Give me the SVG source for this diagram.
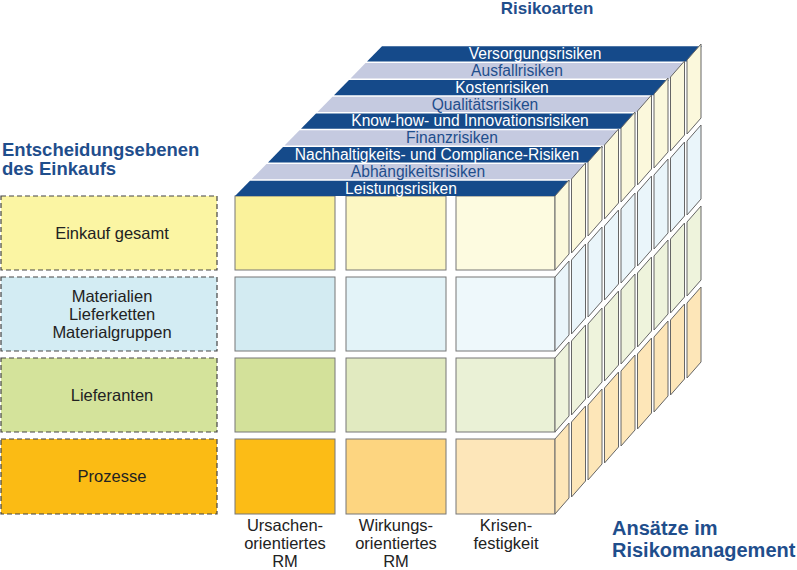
<svg xmlns="http://www.w3.org/2000/svg" width="797" height="570" viewBox="0 0 797 570">
<style>
text{font-family:"Liberation Sans",Arial,sans-serif}
.t{font-weight:bold;fill:#1f4e8c}
.l{font-size:16.5px;fill:#222;text-anchor:middle}
.c{font-size:16.5px;fill:#222;text-anchor:middle}
.box{stroke:#444;stroke-width:1.2;stroke-dasharray:5,3}
.cell{stroke:#777;stroke-width:1}
.side{stroke:#666;stroke-width:1}
.d{fill:#154a8a}.lt{fill:#c5cae0}
.bt{font-size:15.6px;text-anchor:middle}
.bw{fill:#fff}.bb{fill:#1f4e8c}
</style>
<rect width="797" height="570" fill="#fff"/>
<text class="t" x="547" y="14" text-anchor="middle" font-size="17">Risikoarten</text>
<text class="t" x="2" y="156" font-size="18.5">Entscheidungsebenen</text>
<text class="t" x="2" y="175" font-size="18.5">des Einkaufs</text>
<text class="t" x="612" y="535" font-size="20">Ansätze im</text>
<text class="t" x="612" y="557" font-size="20">Risikomanagement</text>
<g id="levels">
<g id="lv1"><rect class="box" x="1" y="196" width="216" height="74" fill="#fbf5a3"/><text class="l" x="112" y="239">Einkauf gesamt</text></g>
<g id="lv2"><rect class="box" x="1" y="277" width="216" height="74" fill="#d3ecf3"/><text class="l" x="112" y="302">Materialien</text><text class="l" x="112" y="320">Lieferketten</text><text class="l" x="112" y="338">Materialgruppen</text></g>
<g id="lv3"><rect class="box" x="1" y="358" width="216" height="74" fill="#d4e39b"/><text class="l" x="112" y="401">Lieferanten</text></g>
<g id="lv4"><rect class="box" x="1" y="439" width="216" height="75" fill="#fbbb14"/><text class="l" x="112" y="482">Prozesse</text></g>
</g>
<g id="front">
<rect class="cell" x="235" y="196" width="100" height="74" fill="#faf29b"/>
<rect class="cell" x="346" y="196" width="100" height="74" fill="#fcf7c3"/>
<rect class="cell" x="456" y="196" width="99" height="74" fill="#fdfbe0"/>
<rect class="cell" x="235" y="277" width="100" height="74" fill="#d3ebf2"/>
<rect class="cell" x="346" y="277" width="100" height="74" fill="#e3f3f8"/>
<rect class="cell" x="456" y="277" width="99" height="74" fill="#eef8fb"/>
<rect class="cell" x="235" y="358" width="100" height="74" fill="#d3e19a"/>
<rect class="cell" x="346" y="358" width="100" height="74" fill="#e1eac0"/>
<rect class="cell" x="456" y="358" width="99" height="74" fill="#eaf1d6"/>
<rect class="cell" x="235" y="439" width="100" height="75" fill="#fcbc16"/>
<rect class="cell" x="346" y="439" width="100" height="75" fill="#fdd580"/>
<rect class="cell" x="456" y="439" width="99" height="75" fill="#fde6b9"/>
</g>
<g id="bands">
<polygon class="d" points="235,196 555,196 570,180.7 250,180.7"/>
<polygon class="lt" points="251.5,179.2 571.5,179.2 586.5,163.9 266.5,163.9"/>
<polygon class="d" points="268,162.4 588,162.4 603,147.1 283,147.1"/>
<polygon class="lt" points="284.5,145.6 604.5,145.6 619.5,130.3 299.5,130.3"/>
<polygon class="d" points="301,128.8 621,128.8 636,113.5 316,113.5"/>
<polygon class="lt" points="317.5,112 637.5,112 652.5,96.7 332.5,96.7"/>
<polygon class="d" points="334,95.2 654,95.2 669,79.9 349,79.9"/>
<polygon class="lt" points="350.5,78.4 670.5,78.4 685.5,63.1 365.5,63.1"/>
<polygon class="d" points="367,61.6 687,61.6 702,46.3 382,46.3"/>
<text class="bt bw" x="401" y="193.5">Leistungsrisiken</text>
<text class="bt bb" x="418" y="176.5">Abhängikeitsrisiken</text>
<text class="bt bw" x="437" y="159.5">Nachhaltigkeits- und Compliance-Risiken</text>
<text class="bt bb" x="452" y="143">Finanzrisiken</text>
<text class="bt bw" x="470" y="126">Know-how- und Innovationsrisiken</text>
<text class="bt bb" x="485" y="109.5">Qualitätsrisiken</text>
<text class="bt bw" x="502" y="92.5">Kostenrisiken</text>
<text class="bt bb" x="517" y="76">Ausfallrisiken</text>
<text class="bt bw" x="535" y="59">Versorgungsrisiken</text>
</g>
<g id="side">
<polygon class="side" fill="#fbf8dc" points="555,196 569,180 569,254 555,270"/>
<polygon class="side" fill="#fbf8dc" points="571.5,179 585.5,163 585.5,237 571.5,253"/>
<polygon class="side" fill="#fbf8dc" points="588,162 602,146 602,220 588,236"/>
<polygon class="side" fill="#fbf8dc" points="604.5,145 618.5,129 618.5,203 604.5,219"/>
<polygon class="side" fill="#fbf8dc" points="621,128 635,112 635,186 621,202"/>
<polygon class="side" fill="#fbf8dc" points="637.5,111 651.5,95 651.5,169 637.5,185"/>
<polygon class="side" fill="#fbf8dc" points="654,94 668,78 668,152 654,168"/>
<polygon class="side" fill="#fbf8dc" points="670.5,77 684.5,61 684.5,135 670.5,151"/>
<polygon class="side" fill="#fbf8dc" points="687,60 701,44 701,118 687,134"/>
<g fill="#eaf5fa">
<polygon class="side" points="555,277 569,261 569,335 555,351"/>
<polygon class="side" points="571.5,260 585.5,244 585.5,318 571.5,334"/>
<polygon class="side" points="588,243 602,227 602,301 588,317"/>
<polygon class="side" points="604.5,226 618.5,210 618.5,284 604.5,300"/>
<polygon class="side" points="621,209 635,193 635,267 621,283"/>
<polygon class="side" points="637.5,192 651.5,176 651.5,250 637.5,266"/>
<polygon class="side" points="654,175 668,159 668,233 654,249"/>
<polygon class="side" points="670.5,158 684.5,142 684.5,216 670.5,232"/>
<polygon class="side" points="687,141 701,125 701,199 687,215"/>
</g>
<g fill="#eef3dc">
<polygon class="side" points="555,358 569,342 569,416 555,432"/>
<polygon class="side" points="571.5,341 585.5,325 585.5,399 571.5,415"/>
<polygon class="side" points="588,324 602,308 602,382 588,398"/>
<polygon class="side" points="604.5,307 618.5,291 618.5,365 604.5,381"/>
<polygon class="side" points="621,290 635,274 635,348 621,364"/>
<polygon class="side" points="637.5,273 651.5,257 651.5,331 637.5,347"/>
<polygon class="side" points="654,256 668,240 668,314 654,330"/>
<polygon class="side" points="670.5,239 684.5,223 684.5,297 670.5,313"/>
<polygon class="side" points="687,222 701,206 701,280 687,296"/>
</g>
<g fill="#fde6b8">
<polygon class="side" points="555,439 569,423 569,498 555,514"/>
<polygon class="side" points="571.5,422 585.5,406 585.5,481 571.5,497"/>
<polygon class="side" points="588,405 602,389 602,464 588,480"/>
<polygon class="side" points="604.5,388 618.5,372 618.5,447 604.5,463"/>
<polygon class="side" points="621,371 635,355 635,430 621,446"/>
<polygon class="side" points="637.5,354 651.5,338 651.5,413 637.5,429"/>
<polygon class="side" points="654,337 668,321 668,396 654,412"/>
<polygon class="side" points="670.5,320 684.5,304 684.5,379 670.5,395"/>
<polygon class="side" points="687,303 701,287 701,362 687,378"/>
</g>
</g>
<g id="cols">
<text class="c" x="285" y="531">Ursachen-</text><text class="c" x="285" y="549">orientiertes</text><text class="c" x="285" y="567">RM</text>
<text class="c" x="396" y="531">Wirkungs-</text><text class="c" x="396" y="549">orientiertes</text><text class="c" x="396" y="567">RM</text>
<text class="c" x="506" y="531">Krisen-</text><text class="c" x="506" y="549">festigkeit</text>
</g>
</svg>
